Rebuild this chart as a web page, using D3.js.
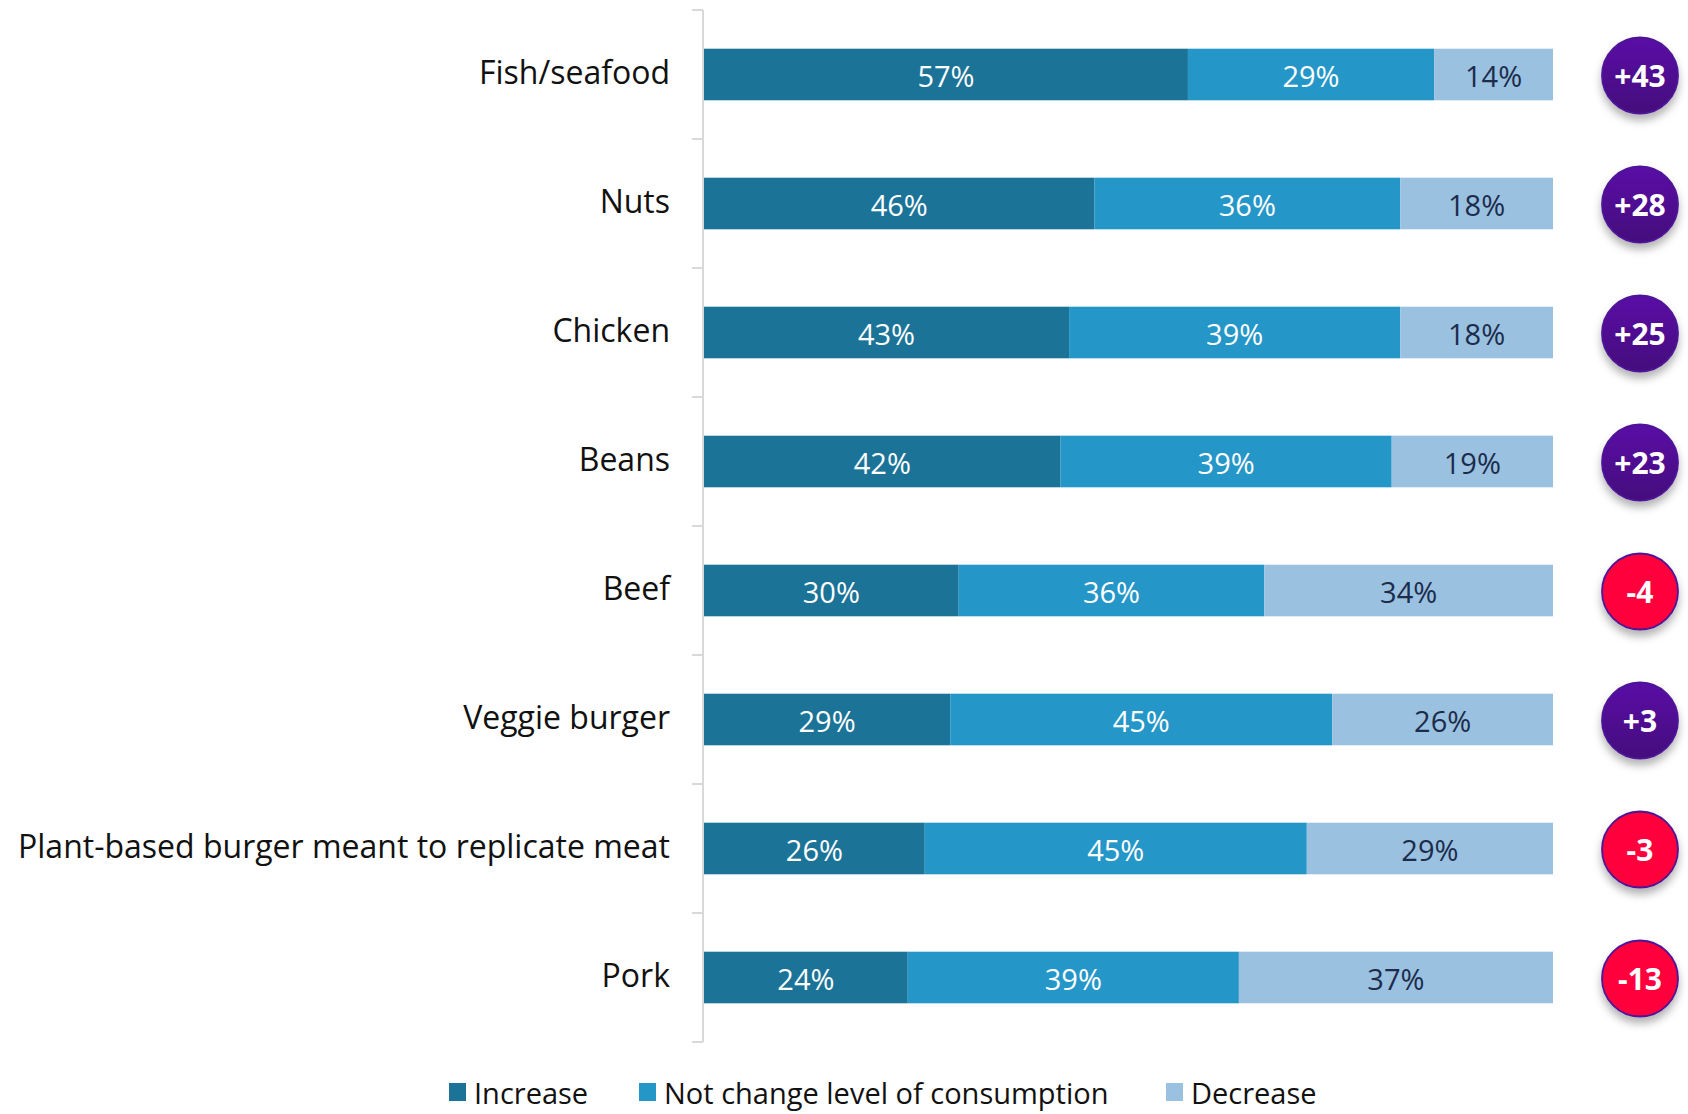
<!DOCTYPE html>
<html>
<head>
<meta charset="utf-8">
<script src="https://cdn.jsdelivr.net/npm/d3@7"></script>
<style>
  html, body { margin: 0; padding: 0; background: #fff; overflow: hidden; }
  svg { display: block; }
</style>
</head>
<body>
<svg id="chart" width="1688" height="1114"></svg>
<script>
// Food categories, top to bottom
const categories = [
  "Fish/seafood", "Nuts", "Chicken", "Beans", "Beef",
  "Veggie burger", "Plant-based burger meant to replicate meat", "Pork"
];
// Share of respondents (%) per answer
const increase  = [57, 46, 43, 42, 30, 29, 26, 24];
const noChange  = [29, 36, 39, 39, 36, 45, 45, 39];
const decrease  = [14, 18, 18, 19, 34, 26, 29, 37];
// Net score (increase minus decrease)
const netScores = [43, 28, 25, 23, -4, 3, -3, -13];

const seriesNames = ["Increase", "Not change level of consumption", "Decrease"];
const seriesColors = ["#1b7397", "#2496c7", "#9ac1e0"];
const labelColors = ["#ffffff", "#ffffff", "#1c2c4c"];

const svg = d3.select("#chart");
const font = "'Open Sans', 'Noto Sans', sans-serif";

const x = d3.scaleLinear().domain([0, 100]).range([704, 1553]);
const y = d3.scaleBand().domain(categories).range([10, 1042]).paddingInner(0.6).paddingOuter(0.3);

// Stack the three answers
const rows = categories.map((c, i) => ({
  category: c,
  Increase: increase[i],
  "Not change level of consumption": noChange[i],
  Decrease: decrease[i]
}));
const stacked = d3.stack().keys(seriesNames)(rows);

// Drop shadow for the net-score badges
const defs = svg.append("defs");
const shadow = defs.append("filter").attr("id", "badgeShadow")
  .attr("x", "-40%").attr("y", "-40%").attr("width", "180%").attr("height", "190%");
shadow.append("feDropShadow").attr("dx", 0).attr("dy", 6).attr("stdDeviation", 4)
  .attr("flood-color", "#000").attr("flood-opacity", 0.3);
const grad = defs.append("linearGradient").attr("id", "purpleGrad")
  .attr("x1", 0).attr("y1", 0).attr("x2", 0).attr("y2", 1);
grad.append("stop").attr("offset", "0%").attr("stop-color", "#5a0aa6");
grad.append("stop").attr("offset", "100%").attr("stop-color", "#44087c");

// Category axis with ticks between bands
const axisG = svg.append("g");
const step = y.step();
const y0 = 10;
axisG.append("line")
  .attr("x1", 703).attr("x2", 703)
  .attr("y1", y0).attr("y2", y0 + step * categories.length)
  .attr("stroke", "#d9d9d9").attr("stroke-width", 2);
axisG.selectAll("line.tick")
  .data(d3.range(categories.length + 1))
  .join("line")
  .attr("class", "tick")
  .attr("x1", 692).attr("x2", 703)
  .attr("y1", i => y0 + i * step).attr("y2", i => y0 + i * step)
  .attr("stroke", "#d9d9d9").attr("stroke-width", 2);

// Category labels
svg.append("g").selectAll("text")
  .data(categories)
  .join("text")
  .attr("x", 670)
  .attr("y", d => y(d) + y.bandwidth() / 2 - 3)
  .attr("text-anchor", "end")
  .attr("dominant-baseline", "central")
  .attr("font-family", font)
  .attr("font-size", 32)
  .attr("fill", "#111")
  .text(d => d);

// Bars
const layers = svg.append("g").selectAll("g")
  .data(stacked)
  .join("g")
  .attr("fill", (d, i) => seriesColors[i]);

layers.selectAll("rect")
  .data(d => d)
  .join("rect")
  .attr("x", d => x(d[0]))
  .attr("y", d => y(d.data.category))
  .attr("width", d => x(d[1]) - x(d[0]))
  .attr("height", y.bandwidth());

// Segment value labels
svg.append("g").selectAll("g")
  .data(stacked)
  .join("g")
  .each(function (layer, li) {
    d3.select(this).selectAll("text")
      .data(layer)
      .join("text")
      .attr("x", d => (x(d[0]) + x(d[1])) / 2)
      .attr("y", d => y(d.data.category) + y.bandwidth() / 2 + 1)
      .attr("text-anchor", "middle")
      .attr("dominant-baseline", "central")
      .attr("font-family", font)
      .attr("font-size", 29)
      .attr("fill", labelColors[li])
      .text(d => `${d[1] - d[0]}%`);
  });

// Net score badges
const badges = svg.append("g").selectAll("g")
  .data(categories.map((c, i) => ({ category: c, net: netScores[i] })))
  .join("g")
  .attr("transform", d => `translate(1640, ${y(d.category) + y.bandwidth() / 2 + 1})`);

badges.append("circle")
  .attr("r", 38)
  .attr("fill", d => d.net >= 0 ? "url(#purpleGrad)" : "#ff003c")
  .attr("stroke", "#4d1596")
  .attr("stroke-width", 1.8)
  .attr("filter", "url(#badgeShadow)");

badges.append("text")
  .attr("text-anchor", "middle")
  .attr("dominant-baseline", "central")
  .attr("font-family", font)
  .attr("font-weight", 700)
  .attr("font-size", 30)
  .attr("fill", "#fff")
  .text(d => d.net > 0 ? `+${d.net}` : `${d.net}`);

// Legend
const legendX = [449, 639, 1166];
const legend = svg.append("g").selectAll("g")
  .data(seriesNames)
  .join("g")
  .attr("transform", (d, i) => `translate(${legendX[i]}, 1092)`);
legend.append("rect")
  .attr("x", 0).attr("y", -9)
  .attr("width", 17).attr("height", 18)
  .attr("fill", (d, i) => seriesColors[i]);
legend.append("text")
  .attr("x", 25)
  .attr("y", 0)
  .attr("dominant-baseline", "central")
  .attr("font-family", font)
  .attr("font-size", 29)
  .attr("fill", "#111")
  .text(d => d);
</script>
</body>
</html>
